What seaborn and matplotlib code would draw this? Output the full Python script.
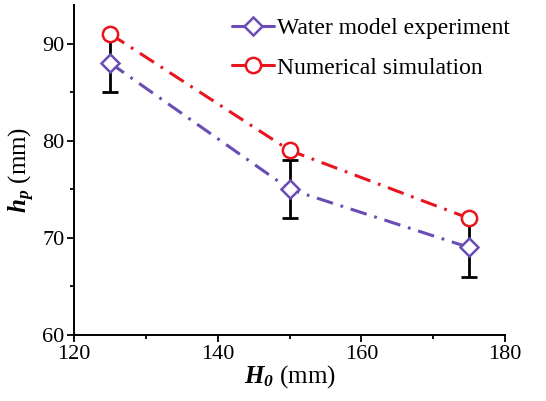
import copy
import numpy as np
import pandas as pd
import seaborn as sns
import matplotlib.pyplot as plt
from matplotlib.ticker import MultipleLocator

# datos
H0 = [125, 150, 175]
hp_agua = [88, 75, 69]
hp_error = [3, 3, 3]
hp_numerico = [91, 79, 72]
series = ['Water model experiment', 'Numerical simulation']

sns.set_style('ticks')
plt.rcParams['font.family'] = ['Liberation Serif', 'DejaVu Serif']
plt.rcParams['text.color'] = 'black'
plt.rcParams['axes.labelcolor'] = 'black'
plt.rcParams['xtick.color'] = 'black'
plt.rcParams['ytick.color'] = 'black'
plt.rcParams['axes.edgecolor'] = 'black'
plt.rcParams['mathtext.fontset'] = 'custom'
plt.rcParams['mathtext.rm'] = 'Liberation Serif'
plt.rcParams['mathtext.it'] = 'Liberation Serif:italic'
plt.rcParams['mathtext.bf'] = 'Liberation Serif:bold:italic'

df = pd.DataFrame({
    'H0': H0 + H0,
    'hp': hp_agua + hp_numerico,
    'serie': [series[0]] * 3 + [series[1]] * 3,
})

colores = {series[0]: '#6a4cb4', series[1]: '#e8141e'}
marcadores = {series[0]: 'D', series[1]: 'o'}

fig = plt.figure(figsize=(5.46, 4.01), dpi=100)
ax = fig.add_axes([0.136, 0.165, 0.789, 0.823])

# barras de error del experimento
ax.errorbar(H0, hp_agua, yerr=hp_error, fmt='none', ecolor='black',
            elinewidth=2, capsize=6, capthick=2, zorder=1)

handles = []
for s in series:
    d = df[df['serie'] == s]
    n = len(ax.lines)
    sns.lineplot(data=d, x='H0', y='hp', ax=ax, color=colores[s],
                 marker=marcadores[s], markersize=11 if s == series[1] else 9,
                 markerfacecolor='white', markeredgecolor=colores[s],
                 markeredgewidth=1.8, linewidth=2.2, zorder=3)
    linea = ax.lines[n]
    # copia con linea continua para la leyenda
    h = copy.copy(linea)
    h.set_linestyle('-')
    handles.append(h)
    # punto-raya en el grafico
    linea.set_linestyle((0, (5.5, 2.6, 0.9, 2.6)))

ax.set_xlim(120, 180)
ax.set_ylim(60, 94)
ax.xaxis.set_major_locator(MultipleLocator(20))
ax.xaxis.set_minor_locator(MultipleLocator(10))
ax.yaxis.set_major_locator(MultipleLocator(10))
ax.yaxis.set_minor_locator(MultipleLocator(5))
ax.tick_params(which='major', direction='out', length=5, width=1.3, labelsize=16, pad=2)
ax.tick_params(which='minor', direction='out', length=3, width=1.3)
sns.despine(ax=ax)
for sp in ['left', 'bottom']:
    ax.spines[sp].set_linewidth(1.4)

ax.set_xlabel(r'$\mathbf{H_0}$ (mm)', fontsize=18, labelpad=0)
ax.set_ylabel(r'$\mathbf{h_p}$ (mm)', fontsize=18, labelpad=4)

ax.legend(handles, series, loc='upper right', frameon=False, fontsize=17,
          handlelength=1.8, handletextpad=0.1, labelspacing=0.75,
          bbox_to_anchor=(1.06, 1.025))

fig.savefig('out.png', dpi=100)
